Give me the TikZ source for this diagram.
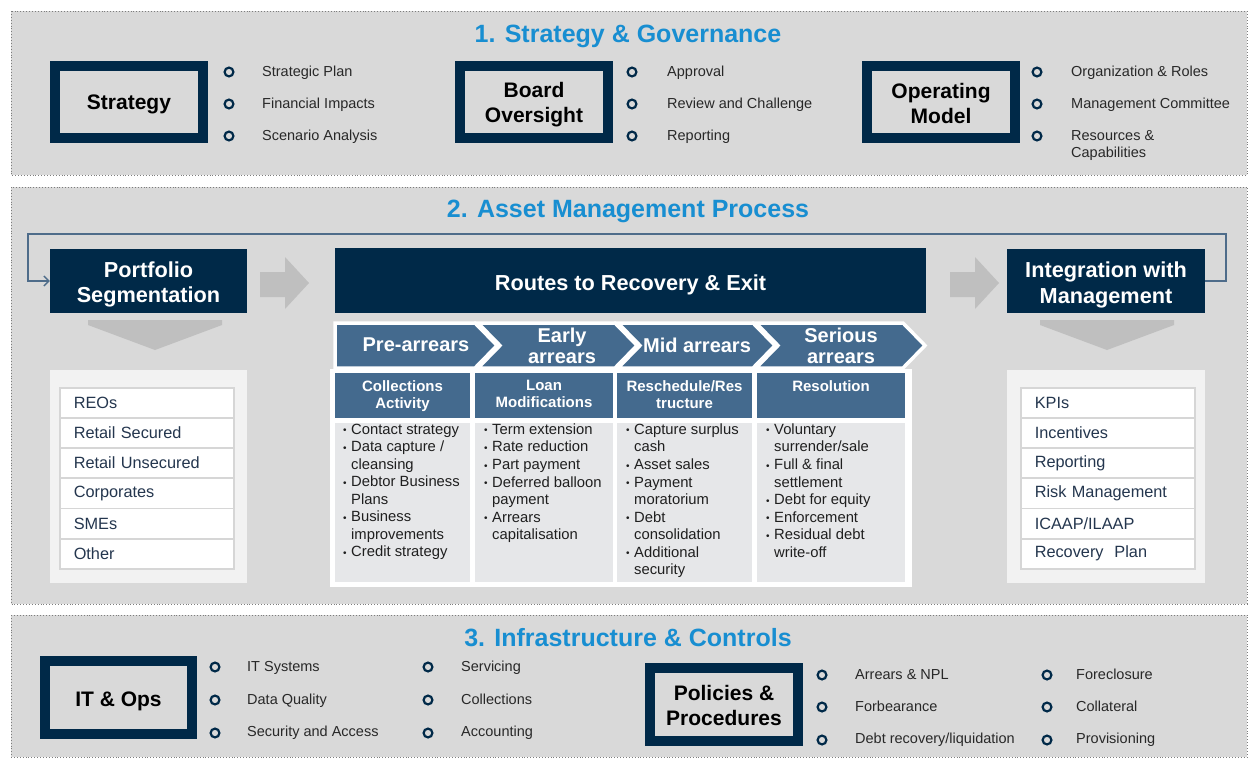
\documentclass[tikz,border=0pt]{standalone}
\usepackage{fontspec}
\setmainfont{Liberation Sans}
\usetikzlibrary{arrows.meta}
\definecolor{navy}{RGB}{0,41,72}
\definecolor{panelgray}{RGB}{217,217,217}
\definecolor{titleblue}{RGB}{24,142,209}
\definecolor{slate}{RGB}{68,106,142}
\definecolor{colbody}{RGB}{230,231,233}
\definecolor{listpanel}{RGB}{242,242,242}
\definecolor{rowline}{RGB}{214,214,214}
\definecolor{arrowgray}{RGB}{191,191,191}
\definecolor{loopcol}{RGB}{78,108,138}
\definecolor{listtext}{RGB}{36,54,78}
\definecolor{bultext}{RGB}{40,40,40}
\definecolor{dotcol}{RGB}{125,125,125}
\newcommand{\bl}{\makebox[8pt][l]{\raisebox{0.5pt}{\fontsize{10}{10}\selectfont\textbullet}}}
\newcommand{\cl}{\hspace*{8pt}}
\begin{document}
\begin{tikzpicture}[x=1pt,y=-1pt,
 panel/.style={fill=panelgray, draw=dotcol, dotted, line width=0.9pt},
 sectitle/.style={text=titleblue, font=\bfseries\fontsize{25}{28}\selectfont, inner sep=0, yshift=-3pt},
 framebox/.style={draw=navy, line width=10pt, fill=panelgray, inner sep=0, minimum width=148, minimum height=72},
 framelabel/.style={inner sep=0, align=center, font=\bfseries\fontsize{21}{25}\selectfont, text=black},
 bul/.style={circle, draw=navy, line width=2.2pt, fill=panelgray, minimum size=8.8pt, inner sep=0},
 btext/.style={anchor=base west, inner sep=0, text=bultext, font=\fontsize{14.5}{17}\selectfont, yshift=-5.5pt},
 btexttwo/.style={anchor=west, inner sep=0, align=left, text=bultext, font=\fontsize{14.5}{17}\selectfont, yshift=-2pt},
 navybox/.style={fill=navy, inner sep=0},
 navylabel/.style={text=white, inner sep=0, align=center, font=\bfseries\fontsize{21.7}{25.5}\selectfont},
 chevtext/.style={text=white, inner sep=0, align=center, font=\bfseries\fontsize{20}{21.5}\selectfont},
 chev/.style={fill=slate, draw=white, line width=3.5pt, line join=miter},
 colhead/.style={fill=slate, draw=none},
 coltitle/.style={anchor=north, text=white, inner sep=0, align=center, font=\bfseries\fontsize{15}{17}\selectfont},
 colbodystyle/.style={fill=colbody, draw=none},
 coltext/.style={anchor=north west, inner sep=0, align=left, text=black!88, font=\fontsize{14.8}{17.55}\selectfont},
 row/.style={anchor=north west, draw=rowline, line width=1.5pt, fill=white, minimum width=174, minimum height=30,
   text width=146, inner xsep=14, inner ysep=0, align=left, text=listtext, font=\fontsize{16.3}{18}\selectfont},
 grayarrow/.style={fill=arrowgray},
 loopline/.style={draw=loopcol, line width=1.6pt, -{Straight Barb[length=5pt,width=10pt,line width=1.3pt]}}
]
\useasboundingbox (0,0) rectangle (1250,758);
\fill[white] (0,0) rectangle (1250,758);

% ---------- Section panels ----------
\draw[panel] (11,11) rectangle (1247,175);
\draw[panel] (11,187) rectangle (1247,604);
\draw[panel] (11,615) rectangle (1247,757);

% ---------- Section 1 ----------
\node[sectitle] (t1) at (628,33) {1. Strategy \& Governance};

\node[framebox] (strat) at (129,102) {};
\node[framelabel] (stratL) at ([yshift=-2.5pt]strat.center) {Strategy};
\node[bul] (s1) at (229,72) {};
\node[bul] (s2) at (229,104) {};
\node[bul] (s3) at (229,136) {};
\node[btext] (st1) at (262,71) {Strategic Plan};
\node[btext] (st2) at (262,103) {Financial Impacts};
\node[btext] (st3) at (262,135) {Scenario Analysis};

\node[framebox] (board) at (534,101.5) {};
\node[framelabel] (boardL) at ([yshift=-3pt]board.center) {Board\\Oversight};
\node[bul] (b1) at (632,72) {};
\node[bul] (b2) at (632,104) {};
\node[bul] (b3) at (632,136) {};
\node[btext] (bt1) at (667,71) {Approval};
\node[btext] (bt2) at (667,103) {Review and Challenge};
\node[btext] (bt3) at (667,135) {Reporting};

\node[framebox] (opm) at (941,101.5) {};
\node[framelabel] (opmL) at ([yshift=-2pt]opm.center) {Operating\\Model};
\node[bul] (o1) at (1037,72) {};
\node[bul] (o2) at (1037,104) {};
\node[bul] (o3) at (1037,136) {};
\node[btext] (ot1) at (1071,71) {Organization \& Roles};
\node[btext] (ot2) at (1071,103) {Management Committee};
\node[btexttwo] (ot3) at (1071,143.5) {Resources \&\\Capabilities};

% ---------- Section 2 ----------
\node[sectitle] (t2) at (628,208) {2. Asset Management Process};

\node[navybox, minimum width=197, minimum height=64] (port) at (148.5,281) {};
\node[navylabel] (portL) at ([yshift=-3.5pt]port.center) {Portfolio\\Segmentation};
\node[navybox, minimum width=591, minimum height=65] (routes) at (630.5,280.5) {};
\node[navylabel] (routesL) at ([yshift=-4.5pt]routes.center) {Routes to Recovery \& Exit};
\node[navybox, minimum width=198, minimum height=64] (integ) at (1106,281) {};
\node[navylabel] (integL) at ([yshift=-4pt]integ.center) {Integration with\\Management};

% feedback loop
\coordinate (lr) at (1226,234);
\coordinate (ll) at (28,234);
\draw[loopline] (integ.east) -| (lr) -- (ll) |- (port.west);

% gray right arrows
\fill[grayarrow] (260,272) -- (285,272) -- (285,257) -- (309,283) -- (285,309) -- (285,297) -- (260,297) -- cycle;
\fill[grayarrow] (950,272) -- (975,272) -- (975,257) -- (999,283) -- (975,309) -- (975,297) -- (950,297) -- cycle;

% down chevrons
\fill[arrowgray] (88,320) -- (222,320) -- (222,325) -- (155,350) -- (88,325) -- cycle;
\fill[arrowgray] (1040,320) -- (1174,320) -- (1174,325) -- (1107,350) -- (1040,325) -- cycle;

% list panels
\fill[listpanel] (50,370) rectangle (247,583);
\fill[listpanel] (1007,370) rectangle (1205,583);
\foreach \t [count=\i] in {REOs,Retail Secured,Retail Unsecured,Corporates,SMEs,Other}
  \node[row] (pl\i) at (59,{387+30.2*(\i-1)}) {\t};
\foreach \t [count=\i] in {KPIs,Incentives,Reporting,Risk Management,ICAAP/ILAAP,Recovery~ Plan}
  \node[row] (il\i) at (1020,{387+30.2*(\i-1)}) {\t};

% white backing for routes
\fill[white] (330,369) rectangle (912,587);

% chevrons
\draw[chev] (335,323) -- (475,323) -- (497,345.5) -- (475,368) -- (335,368) -- cycle;
\draw[chev] (478,323) -- (615,323) -- (637,345.5) -- (615,368) -- (478,368) -- (500,345.5) -- cycle;
\draw[chev] (618,323) -- (753,323) -- (775,345.5) -- (753,368) -- (618,368) -- (640,345.5) -- cycle;
\draw[chev] (756,323) -- (903,323) -- (925,345.5) -- (903,368) -- (756,368) -- (778,345.5) -- cycle;
\node[chevtext] (c1) at (416,345) {Pre-arrears};
\node[chevtext] (c2) at (562,346) {Early\\arrears};
\node[chevtext] (c3) at (697,345) {Mid arrears};
\node[chevtext] (c4) at (841,346) {Serious\\arrears};

% column headers and bodies
\fill[colhead] (335,373) rectangle (470,418);
\fill[colhead] (475,373) rectangle (613,418);
\fill[colhead] (617,373) rectangle (752,418);
\fill[colhead] (757,373) rectangle (905,418);
\fill[colbodystyle] (335,423) rectangle (470,582);
\fill[colbodystyle] (475,423) rectangle (613,582);
\fill[colbodystyle] (617,423) rectangle (752,582);
\fill[colbodystyle] (757,423) rectangle (905,582);

\node[coltitle] (h1) at (402.5,380) {Collections\\Activity};
\node[coltitle] (h2) at (544,380) {Loan\\Modifications};
\node[coltitle] (h3) at (684.5,380) {Reschedule/Res\\tructure};
\node[coltitle] (h4) at (831,380) {Resolution};

\node[coltext] (b1) at (343,423.5) {\bl Contact strategy\\\bl Data capture /\\\cl cleansing\\\bl Debtor Business\\\cl Plans\\\bl Business\\\cl improvements\\\bl Credit strategy};
\node[coltext] (b2) at (484,423.5) {\bl Term extension\\\bl Rate reduction\\\bl Part payment\\\bl Deferred balloon\\\cl payment\\\bl Arrears\\\cl capitalisation};
\node[coltext] (b3) at (626,423.5) {\bl Capture surplus\\\cl cash\\\bl Asset sales\\\bl Payment\\\cl moratorium\\\bl Debt\\\cl consolidation\\\bl Additional\\\cl security};
\node[coltext] (b4) at (766,423.5) {\bl Voluntary\\\cl surrender/sale\\\bl Full \& final\\\cl settlement\\\bl Debt for equity\\\bl Enforcement\\\bl Residual debt\\\cl write-off};

% ---------- Section 3 ----------
\node[sectitle] (t3) at (628,635) {3. Infrastructure \& Controls};

\node[framebox, minimum width=147, minimum height=73] (itops) at (118.5,697.5) {};
\node[framelabel] (itopsL) at ([yshift=-3.5pt]itops.center) {IT \& Ops};
\node[bul] (i1) at (215,667) {};
\node[bul] (i2) at (215,700) {};
\node[bul] (i3) at (215,733) {};
\node[btext] (it1) at (247,666) {IT Systems};
\node[btext] (it2) at (247,699) {Data Quality};
\node[btext] (it3) at (247,731) {Security and Access};
\node[bul] (j1) at (428,667) {};
\node[bul] (j2) at (428,700) {};
\node[bul] (j3) at (428,733) {};
\node[btext] (jt1) at (461,666) {Servicing};
\node[btext] (jt2) at (461,699) {Collections};
\node[btext] (jt3) at (461,731) {Accounting};

\node[framebox, minimum width=148, minimum height=73] (pol) at (724,704.5) {};
\node[framelabel] (polL) at ([yshift=-1pt]pol.center) {Policies \&\\Procedures};
\node[bul] (p1) at (822,675) {};
\node[bul] (p2) at (822,707) {};
\node[bul] (p3) at (822,740) {};
\node[btext] (pt1) at (855,674) {Arrears \& NPL};
\node[btext] (pt2) at (855,706) {Forbearance};
\node[btext] (pt3) at (855,738) {Debt recovery/liquidation};
\node[bul] (q1) at (1047,675) {};
\node[bul] (q2) at (1047,707) {};
\node[bul] (q3) at (1047,740) {};
\node[btext] (qt1) at (1076,674) {Foreclosure};
\node[btext] (qt2) at (1076,706) {Collateral};
\node[btext] (qt3) at (1076,738) {Provisioning};
\end{tikzpicture}
\end{document}
